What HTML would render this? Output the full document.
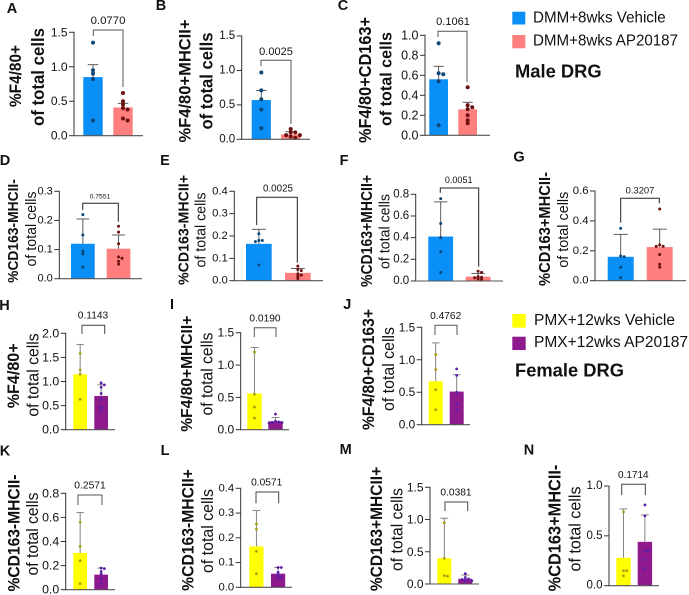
<!DOCTYPE html>
<html lang="en">
<head>
<meta charset="utf-8">
<title>DRG macrophage panels</title>
<style>
html,body{margin:0;padding:0;background:#fff;width:689px;height:595px;overflow:hidden}
svg{display:block}
text{font-family:"Liberation Sans",Arial,sans-serif;fill:#111}
</style>
</head>
<body>
<svg id="figure" width="689" height="595" viewBox="0 0 689 595" xmlns="http://www.w3.org/2000/svg">
  <g>
    <rect x="512.3" y="11.7" width="13" height="12.8" fill="#0a8ff7"/>
    <text x="533" y="18" dominant-baseline="central" font-size="15.8" textLength="132.7" lengthAdjust="spacingAndGlyphs">DMM+8wks Vehicle</text>
    <rect x="512.3" y="35" width="13" height="13.3" fill="#ff7f7f"/>
    <text x="533" y="41" dominant-baseline="central" font-size="15.3" textLength="145" lengthAdjust="spacingAndGlyphs">DMM+8wks AP20187</text>
    <text x="515" y="71" dominant-baseline="central" font-size="18.3" font-weight="700" textLength="86.7" lengthAdjust="spacingAndGlyphs">Male DRG</text>
  </g>
  <g>
    <rect x="512.3" y="314" width="13.4" height="13.7" fill="#ffff00"/>
    <text x="534" y="320.7" dominant-baseline="central" font-size="15.4" textLength="141" lengthAdjust="spacingAndGlyphs">PMX+12wks Vehicle</text>
    <rect x="512.3" y="336.7" width="13.4" height="13.3" fill="#8e1a8e"/>
    <text x="534" y="342.7" dominant-baseline="central" font-size="15.4" textLength="154" lengthAdjust="spacingAndGlyphs">PMX+12wks AP20187</text>
    <text x="515" y="370" dominant-baseline="central" font-size="18.3" font-weight="700" textLength="109" lengthAdjust="spacingAndGlyphs">Female DRG</text>
  </g>
</svg>
<script>
// ---------- chart data ----------
const categories = ['vehicle', 'ap20187'];

const aTicks = ['0.0','0.5','1.0','1.5'];
const aMeans = [0.85, 0.41];
const aErrTops = [1.03, 0.47];
const aVehicle = [1.35, 0.95, 0.9, 0.82, 0.22];
const aTreated = [0.62, 0.5, 0.45, 0.4, 0.38, 0.25, 0.22];
const aP = '0.0770';

const bTicks = ['0.0','0.5','1.0','1.5'];
const bMeans = [0.57, 0.07];
const bErrTops = [0.71, 0.11];
const bVehicle = [0.97, 0.71, 0.58, 0.43, 0.16];
const bTreated = [0.15, 0.1, 0.1, 0.06, 0.06, 0.04, 0.02];
const bP = '0.0025';

const cTicks = ['0.0','0.2','0.4','0.6','0.8','1.0'];
const cMeans = [0.56, 0.26];
const cErrTops = [0.69, 0.33];
const cVehicle = [0.92, 0.62, 0.61, 0.54, 0.1];
const cTreated = [0.48, 0.3, 0.28, 0.26, 0.2, 0.15, 0.12];
const cP = '0.1061';

const dTicks = ['0.0','0.1','0.2','0.3'];
const dMeans = [0.12, 0.103];
const dErrTops = [0.205, 0.15];
const dVehicle = [0.22, 0.15, 0.095, 0.085, 0.04];
const dTreated = [0.18, 0.16, 0.12, 0.075, 0.07, 0.06, 0.05];
const dP = '0.7551';

const eTicks = ['0.0','0.1','0.2','0.3','0.4'];
const eMeans = [0.165, 0.035];
const eErrTops = [0.23, 0.055];
const eVehicle = [0.21, 0.18, 0.18, 0.175, 0.07];
const eTreated = [0.065, 0.05, 0.045, 0.03, 0.025, 0.02, 0.01];
const eP = '0.0025';

const fTicks = ['0.0','0.2','0.4','0.6','0.8'];
const fMeans = [0.41, 0.04];
const fErrTops = [0.73, 0.07];
const fVehicle = [0.76, 0.53, 0.4, 0.27, 0.08];
const fTreated = [0.09, 0.08, 0.04, 0.035, 0.03, 0.02, 0.015];
const fP = '0.0051';

const gTicks = ['0.0','0.2','0.4','0.6'];
const gMeans = [0.16, 0.225];
const gErrTops = [0.31, 0.345];
const gVehicle = [0.35, 0.165, 0.16, 0.09, 0.02];
const gTreated = [0.48, 0.24, 0.23, 0.23, 0.175, 0.11, 0.09];
const gP = '0.3207';

const hTicks = ['0.0','0.5','1.0','1.5','2.0'];
const hMeans = [1.15, 0.7];
const hErrTops = [1.77, 0.93];
const hVehicle = [1.58, 1.24, 1.15, 0.63];
const hTreated = [0.97, 0.93, 0.88, 0.75, 0.63, 0.47, 0.41];
const hP = '0.1143';

const iTicks = ['0.0','0.5','1.0','1.5'];
const iMeans = [0.56, 0.13];
const iErrTops = [1.27, 0.19];
const iVehicle = [1.2, 0.55, 0.35, 0.18];
const iTreated = [0.24, 0.13, 0.12, 0.11, 0.11, 0.1];
const iP = '0.0190';

const jTicks = ['0.0','0.5','1.0','1.5'];
const jMeans = [0.67, 0.51];
const jErrTops = [1.26, 0.77];
const jVehicle = [1.08, 0.85, 0.54, 0.23];
const jTreated = [0.86, 0.76, 0.5, 0.31, 0.22];
const jP = '0.4762';

const kTicks = ['0.0','0.2','0.4','0.6','0.8'];
const kMeans = [0.305, 0.125];
const kErrTops = [0.64, 0.18];
const kVehicle = [0.56, 0.36, 0.24, 0.05];
const kTreated = [0.18, 0.175, 0.15, 0.13, 0.09, 0.05];
const kP = '0.2571';

const lTicks = ['0.0','0.1','0.2','0.3','0.4'];
const lMeans = [0.165, 0.055];
const lErrTops = [0.31, 0.08];
const lVehicle = [0.255, 0.235, 0.145, 0.055];
const lTreated = [0.08, 0.08, 0.06, 0.05, 0.04, 0.04];
const lP = '0.0571';

const mTicks = ['0.0','0.5','1.0','1.5'];
const mMeans = [0.4, 0.08];
const mErrTops = [1.02, 0.14];
const mVehicle = [0.95, 0.4, 0.13, 0.12];
const mTreated = [0.16, 0.1, 0.08, 0.07, 0.05, 0.05];
const mP = '0.0381';

const nTicks = ['0.0','0.5','1.0'];
const nMeans = [0.28, 0.44];
const nErrTops = [0.77, 0.71];
const nVehicle = [0.74, 0.15, 0.15, 0.1];
const nTreated = [0.81, 0.7, 0.35, 0.35, 0.26, 0.17];
const nP = '0.1714';

// ---------- styling ----------
const maleStyle = { fills: ['#0a8ff7', '#ff7f7f'], dots: ['#0c4777', '#6d1010'], whisker: '#4a4a4a' };
const femaleStyle = { fills: ['#ffff00', '#8e1a8e'], dots: ['#a8a010', '#5a1fa8'], whisker: '#777777' };

const svg = document.getElementById('figure');
const NS = 'http://www.w3.org/2000/svg';

function make(parent, tag, attrs, content) {
  const node = document.createElementNS(NS, tag);
  for (const k in attrs) node.setAttribute(k, attrs[k]);
  if (content !== undefined) node.textContent = content;
  parent.appendChild(node);
  return node;
}

// place points side by side only when their values nearly coincide
function swarm(values, yScale, r) {
  const placed = [];
  const sorted = values.slice().sort(function (a, b) { return b - a; });
  sorted.forEach(function (v) {
    const y = yScale(v);
    const step = r * 2.3;
    const clear = r * 1.4;
    let off = 0;
    for (let i = 0; i < 12; i++) {
      off = i === 0 ? 0 : (i % 2 ? 1 : -1) * Math.ceil(i / 2) * step;
      const hit = placed.some(function (p) { return Math.hypot(p.off - off, p.y - y) < clear; });
      if (!hit) break;
    }
    placed.push({ off: off, y: y });
  });
  return placed;
}

function drawPanel(letter, ticks, means, errTops, groups, pValue, style, L) {
  const id = letter.toLowerCase();
  const tickVals = ticks.map(parseFloat);
  const vMin = tickVals[0];
  const vMax = tickVals[tickVals.length - 1];
  const yScale = function (v) { return L.y0 + (v - vMin) / (vMax - vMin) * (L.yTop - L.y0); };
  const xBand = function (i) { return L.barStart + i * L.barStep; };
  const centre = function (i) { return xBand(i) + L.barW / 2; };

  const panel = make(svg, 'g', {});
  
  

  const letterText = make(panel, 'text', { x: L.letter[0], y: L.letter[1], 'font-size': 14.5, 'font-weight': 700, 'text-anchor': 'middle', 'dominant-baseline': 'central' }, letter);
  
  

  const title = make(panel, 'text', { x: 0, y: 0, transform: 'translate(' + L.t1[0] + ' ' + L.t1[1] + ') rotate(-90)', 'font-size': L.t1[3] * 1.06, 'font-weight': 700, 'text-anchor': 'middle', 'dominant-baseline': 'central', textLength: L.t1[2], lengthAdjust: 'spacingAndGlyphs' }, L.titleText);
  
  

  const subtitle = make(panel, 'text', { x: 0, y: 0, transform: 'translate(' + L.t2[0] + ' ' + L.t2[1] + ') rotate(-90)', 'font-size': L.t2[3] * 1.03, 'font-weight': L.subBold ? 700 : 400, 'text-anchor': 'middle', 'dominant-baseline': 'central', textLength: L.t2[2], lengthAdjust: 'spacingAndGlyphs' }, 'of total cells');
  
  

  // bars
  categories.forEach(function (cat, i) {
    const top = yScale(means[i]);
    const bar = make(panel, 'rect', { x: xBand(i), y: top, width: L.barW, height: Math.max(0, L.y0 - top), fill: style.fills[i] });
    
    
  });

  // error bars
  categories.forEach(function (cat, i) {
    const cx = centre(i);
    const cap = L.barW * 0.27;
    const stem = make(panel, 'line', { x1: cx, x2: cx, y1: yScale(means[i]), y2: yScale(errTops[i]), stroke: style.whisker, 'stroke-width': 0.9 });
    
    
    const capLine = make(panel, 'line', { x1: cx - cap, x2: cx + cap, y1: yScale(errTops[i]), y2: yScale(errTops[i]), stroke: style.whisker, 'stroke-width': 0.9 });
    
    
  });

  // individual data points
  categories.forEach(function (cat, i) {
    swarm(groups[i], yScale, L.r).forEach(function (p) {
      const dot = make(panel, 'circle', { cx: centre(i) + p.off, cy: p.y, r: L.r, fill: style.dots[i] });
      
      
    });
  });

  // axes
  const yAxis = make(panel, 'line', { x1: L.axX, x2: L.axX, y1: L.yTop - 0.5, y2: L.y0 + 0.5, stroke: '#333', 'stroke-width': 1 });
  
  
  const xAxis = make(panel, 'line', { x1: L.axX, x2: L.xEnd, y1: L.y0, y2: L.y0, stroke: '#555', 'stroke-width': 1.1 });
  
  

  ticks.forEach(function (label, i) {
    const y = yScale(tickVals[i]);
    const mark = make(panel, 'line', { x1: L.axX - 5, x2: L.axX, y1: y, y2: y, stroke: '#333', 'stroke-width': 1 });
    
    
    const txt = make(panel, 'text', { x: L.axX - 6.5, y: y, 'font-size': L.tickSize, 'text-anchor': 'end', 'dominant-baseline': 'central' }, label);
    
    
  });

  // significance bracket
  const lx = L.br[0], rx = L.br[1], ty = L.br[2], ld = L.br[3], rd = L.br[4];
  const bracket = make(panel, 'path', { d: 'M' + lx + ' ' + ld + 'V' + ty + 'H' + rx + 'V' + rd, fill: 'none', stroke: L.brColor || '#333', 'stroke-width': 1 });
  
  
  const pText = make(panel, 'text', { x: L.pPos[0], y: L.pPos[1], 'font-size': L.pSize, 'text-anchor': 'middle', 'dominant-baseline': 'central' }, pValue);
  
  
}

// ---------- panels: data first, then pixel layout ----------
drawPanel('A', aTicks, aMeans, aErrTops, [aVehicle, aTreated], aP, maleStyle, {
  axX: 74, y0: 135.7, yTop: 32.3, barStart: 83.3, barStep: 30, barW: 19.4, xEnd: 143, r: 2,
  letter: [12, 9], titleText: '%F4/80+', t1: [16, 76, 62, 15.5], t2: [38, 77, 98, 16.8], subBold: true, tickSize: 12,
  br: [93.3, 123, 30, 36, 87], pPos: [108, 21], pSize: 11.4, brColor: '#555' });
drawPanel('B', bTicks, bMeans, bErrTops, [bVehicle, bTreated], bP, maleStyle, {
  axX: 241.7, y0: 139.3, yTop: 36, barStart: 251.7, barStep: 29.4, barW: 19.2, xEnd: 310, r: 2,
  letter: [161, 6], titleText: '%F4/80+MHCII+', t1: [185, 81, 123, 15.7], t2: [207, 81, 97, 16.6], subBold: true, tickSize: 11.5,
  br: [261, 291, 60.3, 66, 124], pPos: [276, 52], pSize: 11, brColor: '#555' });
drawPanel('C', cTicks, cMeans, cErrTops, [cVehicle, cTreated], cP, maleStyle, {
  axX: 425, y0: 135.3, yTop: 35.3, barStart: 429.3, barStep: 29, barW: 18.7, xEnd: 490, r: 2,
  letter: [343, 6], titleText: '%F4/80+CD163+', t1: [365, 80, 126, 16.3], t2: [386, 79, 94, 16.1], subBold: true, tickSize: 12.5,
  br: [438, 467, 31.3, 37, 82], pPos: [453, 22], pSize: 11, brColor: '#555' });
drawPanel('D', dTicks, dMeans, dErrTops, [dVehicle, dTreated], dP, maleStyle, {
  axX: 59.3, y0: 278.7, yTop: 191.3, barStart: 71, barStep: 35.7, barW: 23.7, xEnd: 142, r: 1.5,
  letter: [5, 161], titleText: '%CD163-MHCII-', t1: [14, 231, 103.7, 13.8], t2: [32, 229, 75, 14.2], tickSize: 11,
  br: [82.7, 118.3, 203.3, 210, 221.7], pPos: [100, 197], pSize: 6.8, brColor: '#222' });
drawPanel('E', eTicks, eMeans, eErrTops, [eVehicle, eTreated], eP, maleStyle, {
  axX: 234.3, y0: 280.7, yTop: 191.3, barStart: 246, barStep: 39, barW: 25.7, xEnd: 323, r: 1.5,
  letter: [165, 161], titleText: '%CD163-MHCII+', t1: [184, 230, 110, 14.2], t2: [201.7, 230, 75, 14.2], tickSize: 11.3,
  br: [256.7, 297.3, 197.3, 225, 262.7], pPos: [278, 189], pSize: 9.8, brColor: '#222' });
drawPanel('F', fTicks, fMeans, fErrTops, [fVehicle, fTreated], fP, maleStyle, {
  axX: 415.7, y0: 281, yTop: 194.3, barStart: 428.3, barStep: 37.4, barW: 24.8, xEnd: 503, r: 1.5,
  letter: [344, 161], titleText: '%CD163+MHCII+', t1: [367.7, 231, 112, 14.5], t2: [385.7, 231.5, 75, 14.2], tickSize: 11.5,
  br: [440.3, 478.7, 188, 192.7, 266.7], pPos: [458.7, 180], pSize: 9, brColor: '#222' });
drawPanel('G', gTicks, gMeans, gErrTops, [gVehicle, gTreated], gP, maleStyle, {
  axX: 595, y0: 280.7, yTop: 191, barStart: 607.7, barStep: 39, barW: 26, xEnd: 686, r: 1.5,
  letter: [519, 157.7], titleText: '%CD163+MHCII-', t1: [545, 229, 114, 15.2], t2: [564, 229.7, 76, 14.4], tickSize: 11.3,
  br: [620.7, 659.3, 198.3, 222.7, 203.3], pPos: [640, 190], pSize: 9.4, brColor: '#222' });
drawPanel('H', hTicks, hMeans, hErrTops, [hVehicle, hTreated], hP, femaleStyle, {
  axX: 65.7, y0: 429.7, yTop: 333.3, barStart: 73.3, barStep: 21, barW: 13.7, xEnd: 115, r: 1.4,
  letter: [4.5, 306], titleText: '%F4/80+', t1: [13.3, 375.8, 65, 16], t2: [33.3, 375, 83.3, 15.7], tickSize: 12.3,
  br: [82, 104.7, 325.3, 334, 334], pPos: [93, 316], pSize: 10.2, brColor: '#444' });
drawPanel('I', iTicks, iMeans, iErrTops, [iVehicle, iTreated], iP, femaleStyle, {
  axX: 240.7, y0: 429.7, yTop: 332.7, barStart: 247.3, barStep: 21, barW: 14.4, xEnd: 289, r: 1.4,
  letter: [172, 305], titleText: '%F4/80+MHCII+', t1: [187.3, 373.7, 116, 14.8], t2: [207.3, 374, 83, 15.7], tickSize: 12,
  br: [254.3, 276, 327.7, 337, 337], pPos: [265, 319], pSize: 10.2, brColor: '#555' });
drawPanel('J', jTicks, jMeans, jErrTops, [jVehicle, jTreated], jP, femaleStyle, {
  axX: 421.7, y0: 424.7, yTop: 327.3, barStart: 428.7, barStep: 21, barW: 14, xEnd: 470, r: 1.4,
  letter: [347.3, 305], titleText: '%F4/80+CD163+', t1: [368.3, 369.5, 121, 15.7], t2: [389, 369, 84, 15.9], tickSize: 11.8,
  br: [435, 457, 325.3, 335, 335], pPos: [445.7, 316.7], pSize: 10.2, brColor: '#555' });
drawPanel('K', kTicks, kMeans, kErrTops, [kVehicle, kTreated], kP, femaleStyle, {
  axX: 65.7, y0: 589.7, yTop: 493.3, barStart: 73.3, barStep: 21, barW: 13.7, xEnd: 115, r: 1.4,
  letter: [5, 451.7], titleText: '%CD163-MHCII-', t1: [14, 533, 117, 15.6], t2: [33, 534, 83, 15.7], tickSize: 12.3,
  br: [78, 102, 495, 505, 505], pPos: [90, 486], pSize: 10.3, brColor: '#555' });
drawPanel('L', lTicks, lMeans, lErrTops, [lVehicle, lTreated], lP, femaleStyle, {
  axX: 240.7, y0: 587.3, yTop: 488.3, barStart: 249.3, barStep: 21.7, barW: 14.2, xEnd: 292, r: 1.4,
  letter: [165, 451], titleText: '%CD163-MHCII+', t1: [188, 530, 121.7, 15.7], t2: [208, 531, 84, 15.9], tickSize: 11.3,
  br: [256, 278.7, 492, 503.3, 503.3], pPos: [266.7, 483], pSize: 10.2, brColor: '#444' });
drawPanel('M', mTicks, mMeans, mErrTops, [mVehicle, mTreated], mP, femaleStyle, {
  axX: 430, y0: 584, yTop: 487.3, barStart: 437.3, barStep: 21, barW: 14, xEnd: 479, r: 1.4,
  letter: [345.7, 450], titleText: '%CD163+MHCII+', t1: [376.7, 529, 124.3, 16], t2: [397.3, 529.5, 83, 15.7], tickSize: 12,
  br: [445, 467.7, 502, 511, 511], pPos: [456, 493], pSize: 10.2, brColor: '#444' });
drawPanel('N', nTicks, nMeans, nErrTops, [nVehicle, nTreated], nP, femaleStyle, {
  axX: 609, y0: 585.7, yTop: 486, barStart: 616.3, barStep: 21.4, barW: 14.4, xEnd: 659, r: 1.4,
  letter: [529, 450.7], titleText: '%CD163+MHCII-', t1: [554.7, 528, 126.7, 16.9], t2: [575, 529, 85, 16.1], tickSize: 11.5,
  br: [621.7, 645.3, 484.3, 495, 495], pPos: [633.3, 475.3], pSize: 10, brColor: '#444' });
</script>
</body>
</html>
